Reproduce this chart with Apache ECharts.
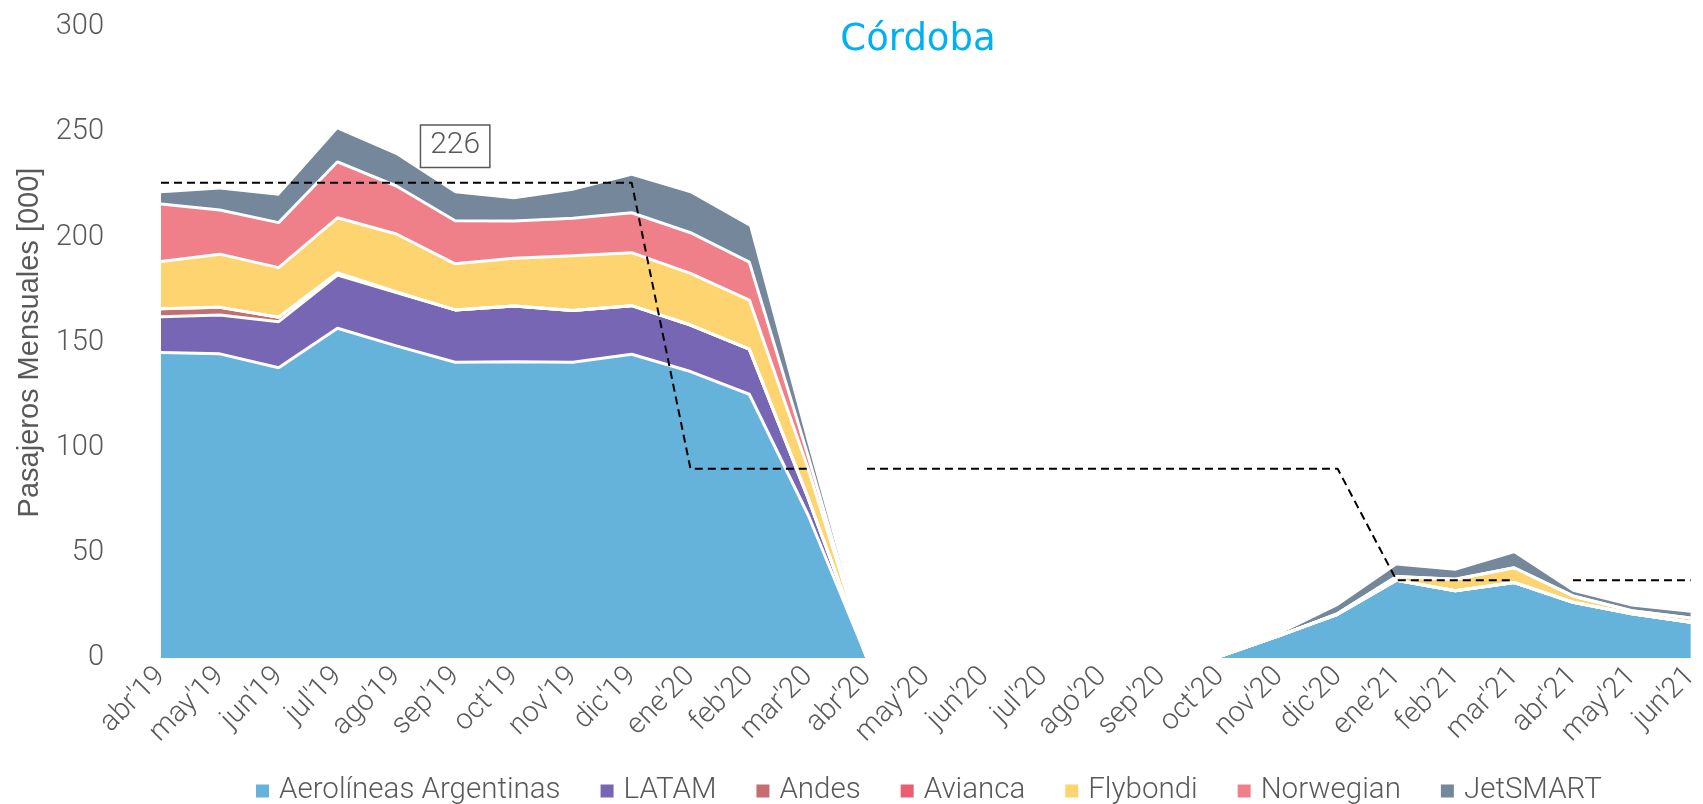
<!DOCTYPE html>
<html>
<head>
<meta charset="utf-8">
<script src="https://cdn.jsdelivr.net/npm/echarts@6/dist/echarts.min.js"></script>
<style>html,body{margin:0;padding:0;background:#fff;}#c{width:1703px;height:804px;}</style>
</head>
<body>
<div id="c"></div>
<script>
const months = ["abr'19","may'19","jun'19","jul'19","ago'19","sep'19","oct'19","nov'19","dic'19","ene'20","feb'20","mar'20","abr'20","may'20","jun'20","jul'20","ago'20","sep'20","oct'20","nov'20","dic'20","ene'21","feb'21","mar'21","abr'21","may'21","jun'21"];
const aerolineas = [145.2,144.6,138,156.8,148.4,140.6,140.9,140.6,144.4,136.2,125.4,68,0,0,0,0,0,0,0.8,10.5,20.8,37,32,35.9,26.5,21,17];
const latam      = [17.1,18.5,21.9,25.3,25.3,24.9,26.5,24.6,23.1,22.1,21.4,8,0,0,0,0,0,0,0,0,0,0,0,0,0,0,0];
const andes      = [3.7,3.6,2.1,1,0.3,0,0,0,0,0,0,0,0,0,0,0,0,0,0,0,0,0,0,0,0,0,0];
const avianca    = [0,0,0,0,0,0,0,0,0,0,0,0,0,0,0,0,0,0,0,0,0,0,0,0,0,0,0];
const flybondi   = [22.5,25.3,23.6,26.2,27.6,21.9,22.6,26.1,25.2,24.6,23.4,14,0,0,0,0,0,0,0,0,0.3,1.7,5.4,7,3,1.5,2];
const norwegian  = [27.4,21,21.4,26.6,22.8,20.5,17.8,17.8,19,19.3,18,6,0,0,0,0,0,0,0,0,0,0,0,0,0,0,0];
const jetsmart   = [5.1,9.8,12.8,15.4,14.8,13.1,10.3,13,17.6,18.8,16.9,5,0,0,0,0,0,0,0,0.5,3.6,5.3,4.1,6.9,2,2,2.5];
const avgPeriod1 = [226,226,226,226,226,226,226,226,226,90,90,90,null,null,null,null,null,null,null,null,null,null,null,null,null,null,null];
const avgPeriod2 = [null,null,null,null,null,null,null,null,null,null,null,null,90,90,90,90,90,90,90,90,90,37,37,37,null,null,null];
const avgPeriod3 = [null,null,null,null,null,null,null,null,null,null,null,null,null,null,null,null,null,null,null,null,null,null,null,null,37,37,37];
const yTicks = {min:0, max:300, interval:50};
const labelIndex = 5;

const names = ['Aerolíneas Argentinas','LATAM','Andes','Avianca','Flybondi','Norwegian','JetSMART'];
const colors = ['#65B2DA','#7766B4','#C46E70','#EC5D74','#FDD470','#EF8089','#74879B'];
const values = [aerolineas, latam, andes, avianca, flybondi, norwegian, jetsmart];

const font = 'Roboto';
const grey = '#595959';

const areaSeries = names.map((n,i)=>({
  name:n, type:'line', stack:'total', data:values[i], symbol:'none', smooth:false,
  lineStyle:{color:'#ffffff', width: i===6 ? 0 : 3},
  areaStyle:{color:colors[i], opacity:1},
  itemStyle:{color:colors[i]},
  emphasis:{disabled:true}, z:2
}));

function dashSeries(arr, withLabel){
  return {
    type:'line', data: arr.map((v,i)=>{
      if (withLabel && i===labelIndex) {
        return {value:v, label:{show:true, position:'top', distance:16, formatter:'{c}',
          fontFamily:font, fontWeight:300, fontSize:30, color:grey, lineHeight:30,
          borderColor:grey, borderWidth:1.5, padding:[5,9,6,9], backgroundColor:'#fff'}};
      }
      return v;
    }),
    symbol:'circle', symbolSize:0.01, showSymbol:true, showAllSymbol:true, connectNulls:false,
    lineStyle:{color:'#000', width:2, type:[8,5]},
    itemStyle:{color:'rgba(0,0,0,0)'}, emphasis:{disabled:true}, z:5, silent:true
  };
}

const chart = echarts.init(document.getElementById('c'), null, {renderer:'canvas'});
chart.setOption({
  animation:false,
  backgroundColor:'#ffffff',
  graphic:[{type:'text', x:918, y:40, style:{text:'Córdoba', fill:'#00B0F0', font:'37px "DejaVu Sans"', textAlign:'center', textVerticalAlign:'middle'}}],
  grid:{left:161, right:11, top:27, bottom:146, containLabel:false},
  legend:{data:names, left:251, top:771, itemWidth:13, itemHeight:13, itemGap:40, icon:'rect',
    textStyle:{fontFamily:font, fontWeight:300, fontSize:29.5, color:grey, padding:[0,0,0,5]}},
  xAxis:{type:'category', data:months, boundaryGap:false,
    axisLine:{show:false}, axisTick:{show:false}, splitLine:{show:false},
    axisLabel:{interval:0, rotate:45, margin:14, fontFamily:font, fontWeight:300, fontSize:29, color:grey}},
  yAxis:{type:'value', min:yTicks.min, max:yTicks.max, interval:yTicks.interval,
    axisLine:{show:false}, axisTick:{show:false}, splitLine:{show:false},
    axisLabel:{margin:57, fontFamily:font, fontWeight:300, fontSize:29, color:grey},
    name:'Pasajeros Mensuales [000]', nameLocation:'middle', nameGap:117,
    nameTextStyle:{fontFamily:'Liberation Sans', fontSize:29, color:grey}},
  series:[...areaSeries, dashSeries(avgPeriod1,true), dashSeries(avgPeriod2,false), dashSeries(avgPeriod3,false)]
});
</script>
</body>
</html>
